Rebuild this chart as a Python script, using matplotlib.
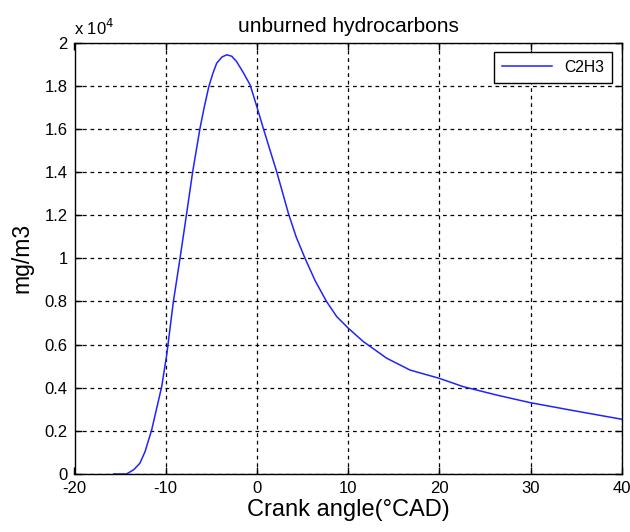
import matplotlib
matplotlib.use("Agg")
import matplotlib.pyplot as plt

crank_angle = [-15.7, -14.3, -13.5, -12.83, -12.27, -11.54, -10.44, -9.89, -9.16, -8.43, -7.70,
               -7.04, -6.24, -5.78, -5.28, -4.85, -4.41, -3.85, -3.31, -2.75, -2.22, -1.5,
               -0.74, -0.01, 0.70, 1.45, 2.17, 3.45, 4.3, 5.28, 6.4, 7.65, 8.75, 10.02,
               11.67, 14.23, 16.79, 19.97, 22.63, 26.3, 29.95, 34.7, 40.0]
c2h3 = [0, 0, 200, 500, 1030, 2040, 4050, 5520, 7990, 10000, 12090,
        14020, 16030, 17000, 17950, 18550, 19050, 19330, 19440, 19370, 19120, 18620,
        18040, 17040, 16030, 15000, 14020, 12090, 11000, 10000, 8950, 7990, 7300, 6760,
        6140, 5370, 4820, 4440, 4050, 3660, 3310, 2940, 2540]

xticks = [-20, -10, 0, 10, 20, 30, 40]
yticks = [0, 2000, 4000, 6000, 8000, 10000, 12000, 14000, 16000, 18000, 20000]
ytick_labels = ["0", "0.2", "0.4", "0.6", "0.8", "1", "1.2", "1.4", "1.6", "1.8", "2"]

plt.rcParams['font.family'] = ['Liberation Sans', 'DejaVu Sans']

fig = plt.figure(figsize=(6.3, 5.32), dpi=100)
ax = fig.add_axes([74.5/630, 1-474/532, (621.7-74.5)/630, (474-42.7)/532])

ax.plot(crank_angle, c2h3, color='#2222ff', lw=1.1, label='C2H3')
ax.set_xlim(-20, 40)
ax.set_ylim(0, 20000)
ax.set_xticks(xticks)
ax.set_xticklabels([str(t) for t in xticks])
ax.set_yticks(yticks)
ax.set_yticklabels(ytick_labels)
ax.tick_params(direction='in', top=True, right=True, length=5, width=1, labelsize=12, pad=5)
ax.grid(True, color='black', linestyle=(0, (3, 3)), linewidth=0.9)
for s in ax.spines.values():
    s.set_linewidth(1)

ax.set_xlabel('Crank angle(°CAD)', fontsize=17, labelpad=2)
ax.set_ylabel('mg/m3', fontsize=16.5, labelpad=8)
ax.set_title('unburned hydrocarbons', fontsize=15, pad=8)
ax.text(0.0, 1.012, r'x 10$^{4}$', transform=ax.transAxes, fontsize=12, ha='left', va='bottom')

leg = ax.legend(loc='upper right', fontsize=11.3, fancybox=False, edgecolor='black',
                framealpha=1, borderaxespad=0.6, handlelength=3.2, borderpad=0.5)
leg.get_frame().set_linewidth(1)

fig.savefig('out.png', dpi=100)
